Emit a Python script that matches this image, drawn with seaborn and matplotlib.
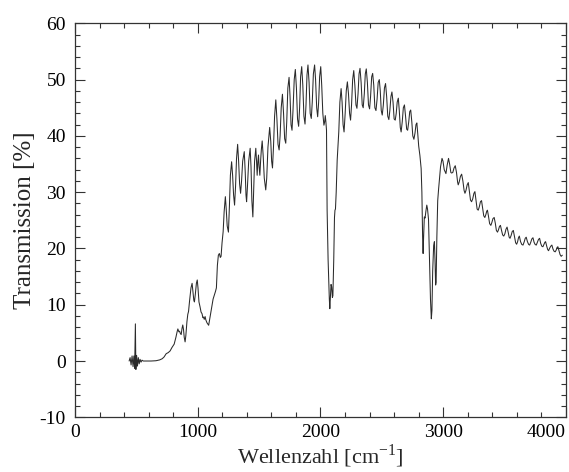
import matplotlib
matplotlib.use("Agg")
import matplotlib.pyplot as plt
import seaborn as sns
import pandas as pd

# Wavenumber [cm^-1]
wavenumber = [
    441, 449, 457, 465, 473, 480, 486, 492, 496, 502, 509, 516, 523, 530, 538, 546, 556,
    580, 620, 660, 690, 710, 725, 743, 760, 775, 790, 808, 822, 832, 838, 846, 852, 858,
    865, 872, 878, 884, 890, 897, 903, 912, 919, 925, 933, 945, 954, 962, 968, 973, 980, 989, 996, 1002,
    1010, 1019, 1027, 1035, 1042, 1047, 1053, 1060, 1066, 1075, 1089, 1100, 1114, 1125, 1135, 1145, 1152, 1160, 1168, 1176,
    1184, 1190, 1198, 1207, 1215, 1225, 1232, 1240, 1250, 1258, 1266, 1276, 1284, 1292, 1300, 1308, 1316, 1325, 1333, 1341,
    1349, 1357, 1366, 1379, 1387, 1393, 1398, 1405, 1415, 1427, 1434, 1441, 1449, 1456, 1463, 1473, 1479, 1484, 1490, 1495,
    1500, 1506, 1512, 1518, 1525, 1533, 1542, 1554, 1562, 1572, 1586, 1595, 1602, 1609, 1617, 1626, 1636, 1645, 1654, 1663,
    1671, 1680, 1690, 1699, 1708, 1717, 1725, 1734, 1744, 1752, 1760, 1768, 1776, 1786, 1795, 1804, 1813, 1822, 1830, 1838,
    1847, 1856, 1865, 1874, 1882, 1890, 1898, 1907, 1916, 1925, 1933, 1942, 1952, 1960, 1969, 1977, 1985, 1993, 2002, 2010,
    2019, 2028, 2034, 2039, 2044, 2049, 2054, 2062, 2068, 2072, 2076, 2080, 2086, 2091, 2097, 2101, 2108, 2114, 2118, 2122,
    2128, 2136, 2149, 2158, 2168, 2176, 2184, 2192, 2201, 2210, 2219, 2228, 2237, 2245, 2253, 2262, 2271, 2280, 2289, 2297,
    2306, 2314, 2322, 2331, 2340, 2348, 2357, 2365, 2373, 2382, 2391, 2400, 2408, 2417, 2425, 2434, 2443, 2452, 2461, 2470,
    2479, 2487, 2495, 2503, 2512, 2521, 2530, 2539, 2548, 2557, 2565, 2574, 2582, 2591, 2600, 2609, 2617, 2625, 2634, 2642,
    2650, 2657, 2666, 2675, 2684, 2693, 2702, 2710, 2719, 2727, 2735, 2744, 2752, 2761, 2770, 2778, 2785, 2792, 2800, 2810,
    2820, 2826, 2832, 2836, 2840, 2846, 2852, 2858, 2866, 2872, 2880, 2888, 2896, 2903, 2908, 2914, 2922, 2928, 2933, 2938,
    2942, 2948, 2955, 2962, 2970, 2978, 2990, 2998, 3008, 3022, 3032, 3043, 3052, 3062, 3068, 3078, 3088, 3098, 3108, 3117,
    3122, 3130, 3140, 3150, 3160, 3170, 3177, 3185, 3195, 3204, 3213, 3222, 3231, 3240, 3250, 3258, 3267, 3276, 3285, 3294,
    3303, 3312, 3321, 3330, 3339, 3347, 3354, 3360, 3368, 3378, 3388, 3396, 3405, 3415, 3424, 3433, 3442, 3450, 3458, 3466,
    3475, 3484, 3493, 3502, 3511, 3520, 3529, 3537, 3544, 3553, 3562, 3571, 3580, 3590, 3598, 3606, 3613, 3620, 3630, 3640,
    3650, 3660, 3668, 3676, 3686, 3696, 3704, 3713, 3722, 3731, 3740, 3749, 3758, 3767, 3776, 3785, 3794, 3803, 3812, 3820,
    3828, 3834, 3843, 3851, 3858, 3866, 3876, 3885, 3894, 3903, 3912, 3920, 3928, 3934, 3943, 3952, 3961, 3970,
]

# Transmission [%]
transmission = [
    0.0, 0.6, -0.7, 0.9, -1.0, 0.9, -1.3, 6.6, -1.5, 1.0, -0.9, 0.6, -0.5, 0.3, -0.2, 0.15, 0.0,
    0.0, 0.0, 0.05, 0.2, 0.4, 0.7, 1.3, 1.5, 1.8, 2.4, 3.0, 4.2, 5.2, 5.7, 5.2, 5.3, 4.9,
    4.7, 5.8, 6.4, 5.6, 4.2, 3.4, 4.5, 7.0, 8.3, 8.8, 10.6, 13.0, 13.8, 12.0, 10.8, 10.5, 11.8, 13.8, 14.4, 13.0,
    10.5, 9.6, 8.7, 8.4, 7.7, 7.8, 7.4, 7.9, 7.3, 6.8, 6.35, 7.8, 9.6, 11.0, 11.7, 12.4, 13.0, 17.0, 18.8, 19.1,
    18.4, 18.6, 21.0, 23.0, 26.5, 29.2, 27.0, 24.0, 22.9, 27.5, 33.0, 35.4, 33.0, 29.5, 27.7, 31.0, 36.0, 38.5, 35.5, 31.5,
    29.8, 32.0, 35.5, 37.2, 33.5, 29.5, 28.3, 31.0, 35.5, 37.8, 34.5, 28.5, 25.6, 30.5, 35.5, 37.8, 35.5, 33.0, 35.5, 36.6,
    34.5, 33.0, 35.5, 37.5, 39.1, 36.5, 32.5, 30.4, 32.5, 38.0, 41.5, 39.0, 35.5, 34.3, 38.0, 43.5, 46.4, 43.0, 38.5, 37.5,
    40.0, 45.0, 47.4, 44.0, 39.5, 38.7, 42.5, 48.5, 50.4, 47.0, 42.0, 41.0, 44.5, 50.0, 51.8, 48.5, 43.0, 41.7, 45.0, 50.5,
    52.3, 49.0, 43.5, 42.1, 45.5, 50.8, 52.6, 49.5, 44.0, 43.1, 46.0, 51.0, 52.6, 50.0, 45.0, 43.4, 46.0, 50.5, 52.3, 49.0,
    44.0, 41.9, 42.5, 43.6, 42.5, 41.0, 26.8, 18.0, 13.8, 11.0, 9.3, 11.0, 13.6, 13.2, 11.3, 11.6, 18.0, 25.5, 26.8, 27.0,
    30.0, 35.7, 40.7, 46.0, 48.4, 46.0, 42.0, 40.7, 44.0, 48.0, 49.6, 47.5, 44.0, 42.8, 45.5, 50.0, 51.6, 49.0, 45.5, 44.9,
    47.5, 51.0, 52.0, 49.5, 45.5, 45.0, 47.5, 51.0, 51.9, 49.5, 45.5, 44.8, 47.0, 50.5, 51.1, 49.0, 45.0, 44.5, 46.5, 49.5,
    50.0, 48.0, 44.5, 43.7, 45.5, 48.5, 49.3, 47.0, 43.5, 42.9, 44.5, 47.0, 47.8, 46.0, 43.0, 42.8, 44.0, 46.0, 46.7, 44.5,
    41.5, 40.7, 42.5, 45.0, 45.5, 43.5, 41.2, 41.0, 42.5, 44.3, 44.6, 42.5, 40.0, 39.4, 40.5, 42.0, 42.3, 40.5, 38.2, 36.5,
    34.2, 30.0, 22.0, 19.1, 22.0, 25.6, 25.4, 26.5, 27.7, 27.0, 25.2, 18.0, 11.0, 7.5, 9.0, 16.0, 20.5, 21.2, 18.0, 13.5,
    14.0, 22.0, 28.5, 30.5, 32.5, 34.5, 36.0, 35.5, 34.0, 33.3, 34.8, 36.0, 35.0, 33.5, 33.4, 33.5, 34.3, 34.7, 33.5, 31.8,
    31.3, 31.8, 32.8, 33.2, 32.0, 30.3, 29.8, 30.3, 31.3, 31.7, 30.2, 28.6, 28.3, 28.8, 29.8, 30.1, 28.6, 27.0, 26.8, 27.4,
    28.3, 28.5, 27.2, 25.8, 25.5, 26.0, 26.6, 26.8, 25.8, 24.4, 24.1, 24.6, 25.3, 25.5, 24.5, 23.2, 22.9, 23.3, 23.9, 24.1,
    23.2, 22.4, 22.2, 22.6, 23.4, 23.8, 22.9, 22.0, 21.8, 22.3, 23.0, 23.2, 22.2, 21.0, 20.75, 21.2, 21.9, 22.2, 21.2, 20.7,
    20.6, 21.2, 21.8, 22.0, 21.2, 20.7, 20.6, 21.1, 21.7, 21.9, 21.1, 20.7, 20.6, 21.1, 21.6, 21.8, 20.9, 20.4, 20.3, 20.7,
    21.1, 21.2, 20.4, 19.8, 19.6, 20.0, 20.4, 20.6, 19.9, 19.5, 19.4, 19.7, 20.2, 20.3, 19.6, 18.9, 18.6, 18.8,
]

x_ticks = [0, 1000, 2000, 3000, 4000]
y_ticks = [-10, 0, 10, 20, 30, 40, 50, 60]
x_label = "Wellenzahl [cm$^{-1}$]"
y_label = "Transmission [%]"

df = pd.DataFrame({"x": wavenumber, "y": transmission})

sns.set_theme(style="ticks")
plt.rcParams["font.family"] = ["Liberation Serif", "DejaVu Serif"]
plt.rcParams["mathtext.fontset"] = "custom"
plt.rcParams["mathtext.rm"] = "Liberation Serif"
plt.rcParams["axes.unicode_minus"] = False

fig = plt.figure(figsize=(5.69, 4.72), dpi=100)
ax = fig.add_axes([0.1318, 0.1159, 0.8629, 0.8347])

sns.lineplot(data=df, x="x", y="y", ax=ax, sort=False, estimator=None,
             color="#2a2a2a", linewidth=0.75)

ax.set_xlim(0, 4000)
ax.set_ylim(-10, 60)
ax.set_xticks(x_ticks)
ax.set_yticks(y_ticks)
ax.set_xticks(range(0, 4001, 200), minor=True)
ax.set_yticks(range(-10, 61, 2), minor=True)
ax.tick_params(which="both", direction="in", top=True, right=True,
               colors="#333333", labelcolor="black", labelsize=14)
ax.tick_params(which="major", length=7, width=0.8)
ax.tick_params(axis="x", which="major", pad=5)
ax.tick_params(axis="y", which="major", pad=6.5)
ax.tick_params(which="minor", length=3.6, width=0.8)
for s in ax.spines.values():
    s.set_color("#333333")
    s.set_linewidth(0.9)

ax.set_xlabel(x_label, fontsize=16, labelpad=1)
ax.set_ylabel(y_label, fontsize=18, labelpad=3)

labels = ax.get_xticklabels()
labels[-1].set_horizontalalignment("right")

fig.savefig("out.png", dpi=100, facecolor="white")
